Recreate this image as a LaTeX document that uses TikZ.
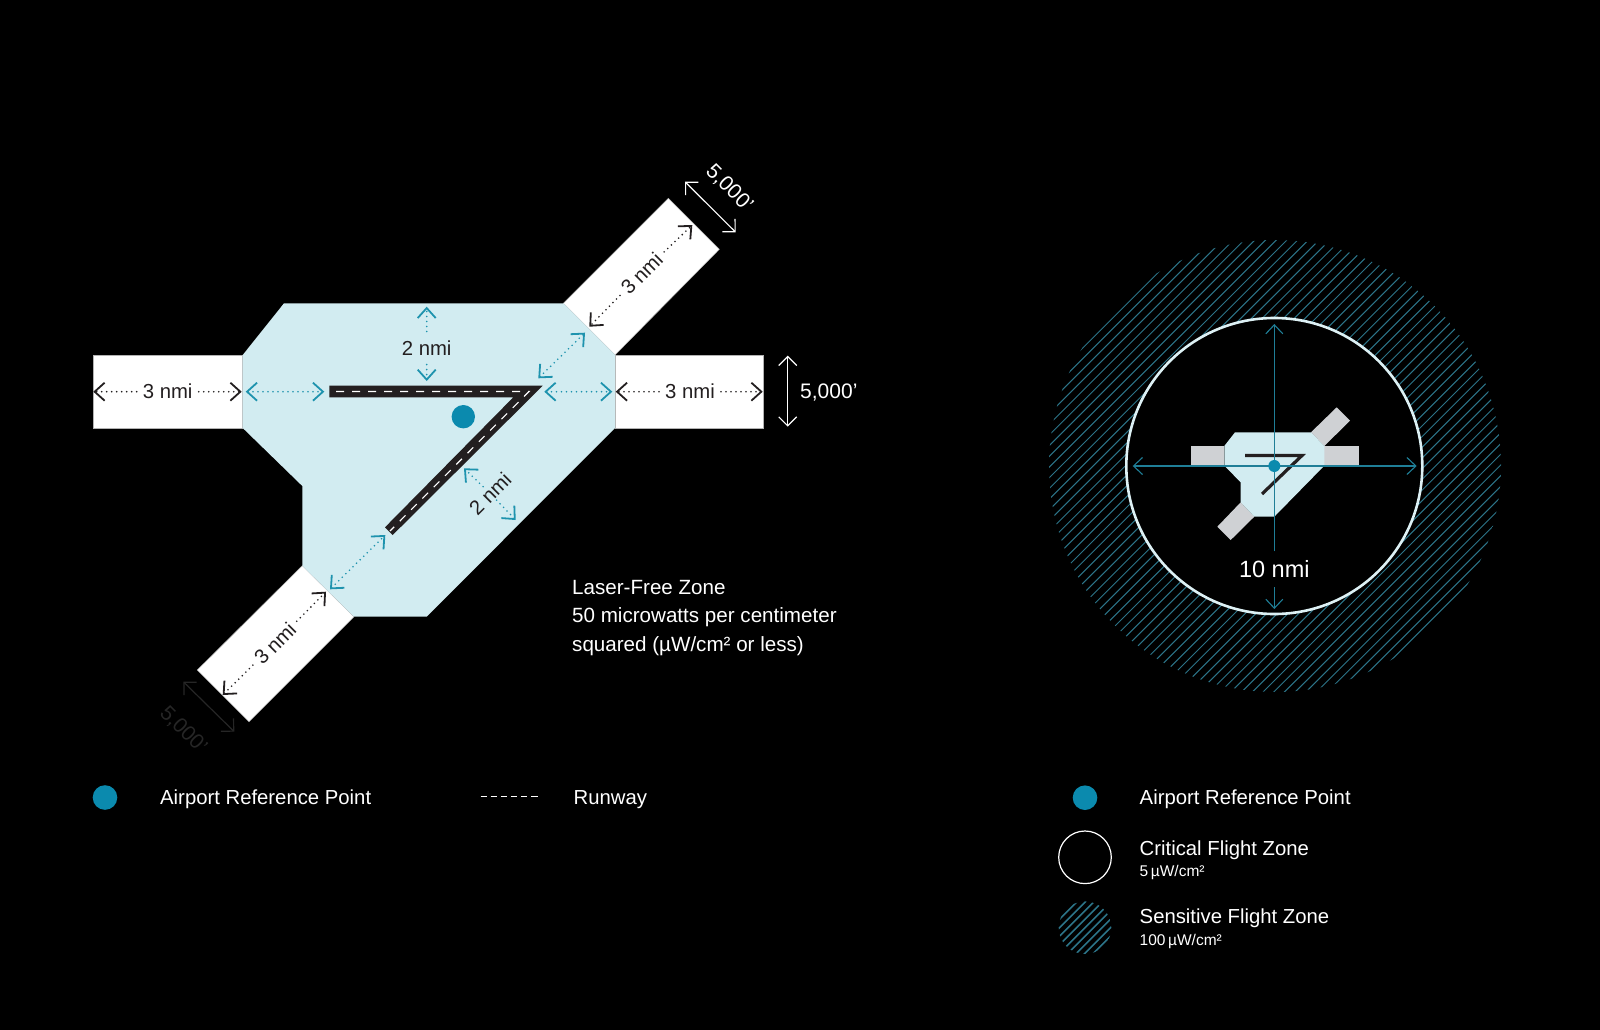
\documentclass[tikz,border=0pt]{standalone}
\usepackage{fontspec}
\setmainfont{Liberation Sans}
\usepackage{tikz}
\usetikzlibrary{arrows.meta}

\definecolor{zoneblue}{HTML}{D2ECF1}
\definecolor{arpteal}{HTML}{0B8AAE}
\definecolor{dimteal}{HTML}{1E93AE}
\definecolor{crossteal}{HTML}{1F7E97}
\definecolor{hatchteal}{HTML}{2C7488}
\definecolor{armgrey}{HTML}{CFD1D4}
\definecolor{roadblack}{HTML}{231F20}
\definecolor{ringwhite}{HTML}{DDF1F5}
\definecolor{ghostgrey}{HTML}{262626}

\begin{document}
\begin{tikzpicture}[x=1pt, y=-1pt, every node/.style={font=\fontsize{20.3}{28.5}\selectfont, inner sep=0pt},
	>={Straight Barb[length=10pt, width=18pt, line width=1.8pt]},
	dimdark/.style={roadblack, line width=1.8pt, line cap=round, dash pattern=on 0pt off 5pt},
	dimblue/.style={dimteal, line width=1.8pt, line cap=round, dash pattern=on 0pt off 5pt},
	dimthin/.style={white, line width=1.2pt, >={Straight Barb[length=9pt, width=18pt, line width=1.2pt]}},
	dimghost/.style={ghostgrey, line width=1.2pt, >={Straight Barb[length=9pt, width=18pt, line width=1.2pt]}},
	crossline/.style={crossteal, line width=1.1pt, >={Straight Barb[length=9pt, width=17pt, line width=1.1pt]}},
	armbox/.style={fill=white, draw=black!30, line width=0.5pt},
	miniarm/.style={fill=armgrey},
	labdark/.style={text=roadblack, inner xsep=6pt, inner ysep=2pt},
	labfeet/.style={font=\fontsize{21}{25}\selectfont},
	labwhite/.style={text=white},
	legendtext/.style={text=white, anchor=base west},
	legendsmall/.style={text=white, anchor=base west, font=\fontsize{15.5}{18}\selectfont},
	arpdot/.style={circle, fill=arpteal, minimum size=#1},
	hatchline/.style={hatchteal, line width=#1}]

	\useasboundingbox (0,0) rectangle (1600,1030);
	\fill[black] (0,0) rectangle (1600,1030);

	% laser-free zone
	\draw[armbox] (93.3,355) rectangle (242.7,428);
	\draw[armbox] (615,355) rectangle (763.3,428);
	\draw[armbox] (563.3,303.3) -- (668.3,198.3) -- (719.3,249.3) -- (615,355) -- cycle;
	\draw[armbox] (302.3,565.7) -- (197.3,670) -- (249,721.7) -- (354,616.7) -- cycle;
	\fill[zoneblue] (284,303.3) -- (563.3,303.3) -- (615,355) -- (615,428) -- (426.7,616.7) -- (354,616.7) -- (302.3,565.7) -- (302.3,486) -- (242.7,428) -- (242.7,355) -- cycle;
	\fill[roadblack] (329.3,385.7) -- (542.7,385.7) -- (392.7,535) -- (385,527.3) -- (513.3,397.3) -- (329.3,397.3) -- cycle;
	\draw[white, line width=1.1pt, dash pattern=on 8pt off 8pt] (336,391.5) -- (529,391.5) -- (390,531);
	\node[arpdot=23.4pt] (arpmain) at (463.3,416.7) {};

	% west arm
	\node[labdark] (labw) at (167.7,391.7) {3 nmi};
	\coordinate (wa) at (93.3,391.7);
	\coordinate (wb) at (241.7,391.7);
	\draw[dimdark,->] (labw) -- (wa);
	\draw[dimdark,->] (labw) -- (wb);
	\coordinate (wc) at (245.7,391.7);
	\coordinate (wd) at (324.3,391.7);
	\draw[dimblue,<->] (wc) -- (wd);

	% east arm
	\node[labdark] (labe) at (690,391.7) {3 nmi};
	\coordinate (ea) at (615.7,391.7);
	\coordinate (eb) at (762.7,391.7);
	\draw[dimdark,->] (labe) -- (ea);
	\draw[dimdark,->] (labe) -- (eb);
	\coordinate (ec) at (544.3,391.7);
	\coordinate (ed) at (612.3,391.7);
	\draw[dimblue,<->] (ec) -- (ed);
	\coordinate (ef) at (787.7,355.7);
	\coordinate (eg) at (787.7,426.7);
	\draw[dimthin,<->] (ef) -- (eg);
	\node[labwhite, labfeet, anchor=west] (labfe) at (800,392.5) {5,000'};

	% north east arm
	\node[labdark, rotate=45] (labn) at (641.7,273.3) {3 nmi};
	\coordinate (na) at (589.3,326.7);
	\coordinate (nb) at (692.3,225);
	\draw[dimdark,->] (labn) -- (na);
	\draw[dimdark,->] (labn) -- (nb);
	\coordinate (nc) at (538.3,378.3);
	\coordinate (nd) at (585,332.7);
	\draw[dimblue,<->] (nc) -- (nd);
	\coordinate (nf) at (685,181.7);
	\coordinate (ng) at (735.7,232.3);
	\draw[dimthin,<->] (nf) -- (ng);
	\node[labwhite, labfeet, rotate=-45] (labfn) at (729.3,188.3) {5,000'};

	% south west arm
	\node[labdark, rotate=45] (labs) at (275,643.3) {3 nmi};
	\coordinate (sa) at (222.7,695);
	\coordinate (sb) at (326,591.7);
	\draw[dimdark,->] (labs) -- (sa);
	\draw[dimdark,->] (labs) -- (sb);
	\coordinate (sc) at (330,589.3);
	\coordinate (sd) at (385.3,535);
	\draw[dimblue,<->] (sc) -- (sd);
	\coordinate (sf) at (183.3,681.7);
	\coordinate (sg) at (234.3,731.7);
	\draw[dimghost,<->] (sf) -- (sg);
	\node[text=ghostgrey, labfeet, rotate=-45] (labfs) at (183.3,730) {5,000'};

	% two miles from the runway
	\node[labdark, inner ysep=9pt] (labt) at (426.7,348) {2 nmi};
	\coordinate (ta) at (426.7,306.7);
	\coordinate (tb) at (426.7,381);
	\draw[dimblue,->] (labt) -- (ta);
	\draw[dimblue,->] (labt) -- (tb);
	\node[labdark, rotate=45] (labr) at (490,493.3) {2 nmi};
	\coordinate (ra) at (464,468.3);
	\coordinate (rb) at (515.7,520);
	\draw[dimblue,->] (labr) -- (ra);
	\draw[dimblue,->] (labr) -- (rb);

	\node[labwhite, anchor=west, align=left, font=\fontsize{20.6}{28.5}\selectfont] (laser) at (572,618) {Laser-Free Zone\\50 microwatts per centimeter\\squared (µW/cm² or less)};

	% flight zones
	\begin{scope}
		\clip (1275,466) circle (226);
		\foreach \k in {-45,...,45}
			\draw[hatchline=1pt] ({1275+\k*10.7-300},766) -- ({1275+\k*10.7+300},166);
	\end{scope}
	\node[circle, draw=ringwhite, fill=black, line width=2.6pt, minimum size=296pt] (ring) at (1274.3,466) {};

	% small copy of the zone
	\fill[miniarm] (1190.7,446) rectangle (1224.3,465.7);
	\fill[miniarm] (1324.3,446) rectangle (1359.3,465.7);
	\fill[miniarm] (1311,432.3) -- (1336.7,407.3) -- (1350,420.7) -- (1324.3,446) -- cycle;
	\fill[miniarm] (1240.7,502.3) -- (1217.3,526.7) -- (1230.7,540) -- (1254.3,516.7) -- cycle;
	\fill[zoneblue] (1235,432.3) -- (1311,432.3) -- (1324.3,446) -- (1324.3,465.7) -- (1274.3,516.7) -- (1254.3,516.7) -- (1240.7,502.3) -- (1240.7,482.3) -- (1224.3,465.7) -- (1224.3,446) -- cycle;
	\draw[roadblack, line width=3.2pt] (1245,455.5) -- (1302,455.5) -- (1262,494);

	\node[labwhite, inner ysep=9pt, font=\fontsize{23.5}{28}\selectfont] (labten) at (1274.3,569.3) {10 nmi};
	\coordinate (cl) at (1132.7,466);
	\coordinate (cr) at (1416.7,466);
	\coordinate (ct) at (1274.3,324);
	\coordinate (cb) at (1274.3,609);
	\draw[crossline,<->] (cl) -- (cr);
	\draw[crossline,->] (labten) -- (ct);
	\draw[crossline,->] (labten) -- (cb);
	\node[arpdot=12pt] (arpmini) at (1274.3,466) {};

	% left legend
	\node[arpdot=24.6pt] (legarpa) at (105,797.5) {};
	\node[legendtext] (txtarpa) at (160,804.5) {Airport Reference Point};
	\coordinate (runa) at (480.6,796.5);
	\coordinate (runb) at (537.8,796.5);
	\draw[white, line width=1pt, dash pattern=on 6.4pt off 3.7pt] (runa) -- (runb);
	\node[legendtext] (txtrun) at (573.5,804.5) {Runway};

	% right legend
	\node[arpdot=24.6pt] (legarpb) at (1085,797.7) {};
	\node[legendtext] (txtarpb) at (1139.5,804.5) {Airport Reference Point};
	\node[circle, draw=white, line width=1.2pt, minimum size=52.6pt] (legcfz) at (1085,857.3) {};
	\node[legendtext] (txtcfz) at (1139.5,855) {Critical Flight Zone};
	\node[legendsmall] (subcfz) at (1139.5,876) {5\,µW/cm²};
	\begin{scope}
		\clip (1085,927.7) circle (26.3);
		\foreach \k in {-9,...,9}
			\draw[hatchline=1.5pt] ({1085+\k*8.5-40},967.7) -- ({1085+\k*8.5+40},887.7);
	\end{scope}
	\node[legendtext] (txtsfz) at (1139.5,923.3) {Sensitive Flight Zone};
	\node[legendsmall] (subsfz) at (1139.5,945) {100\,µW/cm²};
\end{tikzpicture}
\end{document}
